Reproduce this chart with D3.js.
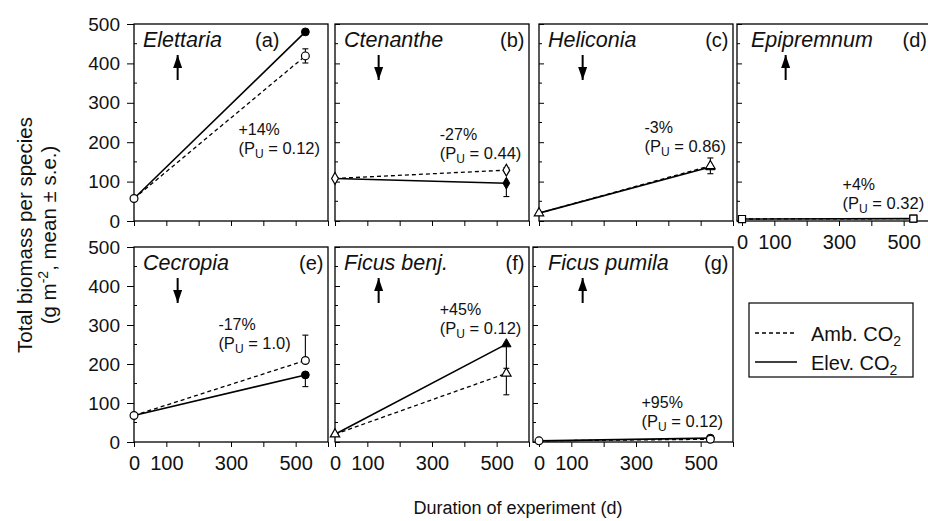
<!DOCTYPE html>
<html>
<head>
<meta charset="utf-8">
<script src="https://cdnjs.cloudflare.com/ajax/libs/d3/7.8.5/d3.min.js"></script>
<style>
body { margin: 0; background: #fff; }
svg { font-family: "Liberation Sans", Arial, Helvetica, sans-serif; }
</style>
</head>
<body>
<div id="chart"></div>
<script>
const w = 928,
    h = 521;

// ---- data ----
const species = ["Elettaria", "Ctenanthe", "Heliconia", "Epipremnum", "Cecropia", "Ficus benj.", "Ficus pumila"];
const panelLetters = ["(a)", "(b)", "(c)", "(d)", "(e)", "(f)", "(g)"];
const days = [0, 530];
const ambient = [[57, 419], [108, 129], [20, 140], [5, 6], [68, 209], [20, 176], [3, 7]];
const elevated = [[57, 480], [108, 96], [20, 137], [5, 6], [68, 172], [20, 251], [3, 10]];
const ambientSE = [18, 6, 20, 0, 65, 55, 4];
const elevatedSE = [0, 34, 0, 0, 30, 62, 0];
const ambientErrDir = [0, 1, 0, 0, 1, -1, 0];   // 1 up, -1 down, 0 both
const elevatedErrDir = [0, -1, 0, 0, -1, -1, 0];
const changeText = ["+14%", "-27%", "-3%", "+4%", "-17%", "+45%", "+95%"];
const pValues = ["0.12", "0.44", "0.86", "0.32", "1.0", "0.12", "0.12"];
const arrowUp = [true, false, false, true, false, true, true];
const markerShapes = ["circle", "diamond", "triangle", "square", "circle", "triangle", "circle"];
const xTicks = [0, 100, 200, 300, 400, 500, 600];
const xTickLabels = [0, 100, 300, 500];
const yTicks = [0, 100, 200, 300, 400, 500];
const yMinorTicks = [50, 150, 250, 350, 450];

// ---- layout ----
const panelLeft = [134, 335, 539, 742, 134, 335, 539];
const panelBottom = [221, 221, 221, 221, 442, 442, 442];
const panelTop = [24, 24, 24, 24, 247, 247, 247];
const framePad = [0, 0, 0, 5, 0, 0, 6];
const panelWidth = 194;
const showYLabels = [true, false, false, false, true, false, false];
const showXLabels = [false, false, false, true, true, true, true];
const noteX = [323, 324, 326, 311, 261, 324, 317];
const noteY = [218, 206, 223, 79, 287, 326, 88];
const letterDay = [450, 586, 586, 572, 586, 586, 586];
const arrowDay = 135;

const symbolTypes = {
    circle: d3.symbolCircle,
    diamond: d3.symbolDiamond,
    triangle: d3.symbolTriangle,
    square: d3.symbolSquare
};
const symbolSizes = { circle: 48, diamond: 40, triangle: 38, square: 50 };

const svg = d3.select("#chart")
    .append("svg")
    .attr("width", w)
    .attr("height", h);

species.forEach(function (name, i) {
    const x = d3.scaleLinear()
        .domain([0, 600])
        .range([panelLeft[i], panelLeft[i] + panelWidth]);
    const y = d3.scaleLinear()
        .domain([0, 500])
        .range([panelBottom[i], panelTop[i]]);

    const g = svg.append("g");
    const frameX = x(0) - framePad[i];

    // frame
    g.append("rect")
        .attr("x", frameX)
        .attr("y", y(500))
        .attr("width", panelWidth + framePad[i])
        .attr("height", y(0) - y(500))
        .attr("fill", "none")
        .attr("stroke", "#000")
        .attr("stroke-width", 1.3);

    // x axis
    const xAxis = d3.axisBottom(x)
        .tickValues(xTicks)
        .tickSize(5)
        .tickPadding(9)
        .tickFormat(function (d) {
            return (showXLabels[i] && xTickLabels.indexOf(d) >= 0) ? d : "";
        });
    const xg = g.append("g")
        .attr("transform", "translate(0," + y(0) + ")")
        .call(xAxis);
    xg.select(".domain").remove();
    xg.selectAll("text").attr("font-size", 20).attr("fill", "#111");

    // y axis
    const yAxis = d3.axisLeft(y)
        .tickValues(yTicks)
        .tickSize(showYLabels[i] ? 7 : -5)
        .tickPadding(7)
        .tickFormat(function (d) { return showYLabels[i] ? d : ""; });
    const yg = g.append("g")
        .attr("transform", "translate(" + frameX + ",0)")
        .call(yAxis);
    yg.select(".domain").remove();
    yg.selectAll("text").attr("font-size", 19).attr("fill", "#111");

    g.selectAll(".minor")
        .data(yMinorTicks)
        .enter()
        .append("line")
        .attr("x1", frameX)
        .attr("x2", frameX + 3)
        .attr("y1", function (d) { return y(d); })
        .attr("y2", function (d) { return y(d); })
        .attr("stroke", "#000");

    // lines
    const line = d3.line()
        .x(function (d) { return x(d[0]); })
        .y(function (d) { return y(d[1]); });

    g.append("path")
        .datum(days.map(function (d, k) { return [d, elevated[i][k]]; }))
        .attr("d", line)
        .attr("fill", "none")
        .attr("stroke", "#000")
        .attr("stroke-width", 1.6);

    g.append("path")
        .datum(days.map(function (d, k) { return [d, ambient[i][k]]; }))
        .attr("d", line)
        .attr("fill", "none")
        .attr("stroke", "#000")
        .attr("stroke-width", 1.3)
        .attr("stroke-dasharray", "4,3");

    // error bars at the end point
    function errorBar(value, se, dir) {
        if (!se) return;
        const lo = dir === 1 ? value : value - se;
        const hi = dir === -1 ? value : value + se;
        const cx = x(days[1]);
        g.append("line")
            .attr("x1", cx).attr("x2", cx)
            .attr("y1", y(lo)).attr("y2", y(hi))
            .attr("stroke", "#000").attr("stroke-width", 1.1);
        [lo, hi].forEach(function (v) {
            if (v === value) return;
            g.append("line")
                .attr("x1", cx - 3).attr("x2", cx + 3)
                .attr("y1", y(v)).attr("y2", y(v))
                .attr("stroke", "#000").attr("stroke-width", 1.1);
        });
    }
    errorBar(ambient[i][1], ambientSE[i], ambientErrDir[i]);
    errorBar(elevated[i][1], elevatedSE[i], elevatedErrDir[i]);

    // markers
    const sym = d3.symbol()
        .type(symbolTypes[markerShapes[i]])
        .size(symbolSizes[markerShapes[i]]);

    g.append("path")
        .attr("d", sym)
        .attr("transform", "translate(" + x(days[1]) + "," + y(elevated[i][1]) + ")")
        .attr("fill", "#000")
        .attr("stroke", "#000");

    days.forEach(function (d, k) {
        g.append("path")
            .attr("d", sym)
            .attr("transform", "translate(" + x(d) + "," + y(ambient[i][k]) + ")")
            .attr("fill", "#fff")
            .attr("stroke", "#000")
            .attr("stroke-width", 1.2);
    });

    // species name and panel letter
    g.append("text")
        .attr("x", x(0) + 9)
        .attr("y", y(500) + 23)
        .attr("font-size", 21.5)
        .attr("font-style", "italic")
        .attr("fill", "#111")
        .text(name);

    g.append("text")
        .attr("x", x(letterDay[i]))
        .attr("y", y(500) + 23)
        .attr("text-anchor", "end")
        .attr("font-size", 20)
        .attr("fill", "#111")
        .text(panelLetters[i]);

    // arrow
    const ax = x(arrowDay);
    const aTop = y(500) + 31,
        aBot = y(500) + 56;
    const tipY = arrowUp[i] ? aTop : aBot;
    const baseY = arrowUp[i] ? aTop + 13 : aBot - 13;
    g.append("line")
        .attr("x1", ax).attr("x2", ax)
        .attr("y1", aTop).attr("y2", aBot)
        .attr("stroke", "#000").attr("stroke-width", 2);
    g.append("path")
        .attr("d", "M" + ax + "," + tipY + "L" + (ax - 4.5) + "," + baseY + "L" + (ax + 4.5) + "," + baseY + "Z")
        .attr("fill", "#000");

    // change and p value
    const nx = x(noteX[i]),
        ny = y(noteY[i]);
    g.append("text")
        .attr("x", nx)
        .attr("y", ny)
        .attr("font-size", 16)
        .attr("fill", "#111")
        .text(changeText[i]);

    const pt = g.append("text")
        .attr("x", nx)
        .attr("y", ny + 19)
        .attr("font-size", 16.5)
        .attr("fill", "#111");
    pt.append("tspan").text("(P");
    pt.append("tspan").attr("dy", 4).attr("font-size", 12).text("U");
    pt.append("tspan").attr("dy", -4).text(" = " + pValues[i] + ")");
});

// y axis title
const yTitle = svg.append("text")
    .attr("transform", "translate(32,235) rotate(-90)")
    .attr("text-anchor", "middle")
    .attr("font-size", 20.5)
    .attr("fill", "#111");
yTitle.append("tspan")
    .attr("x", 0)
    .attr("dy", 0)
    .text("Total biomass per species");
yTitle.append("tspan")
    .attr("x", 0)
    .attr("dy", 24)
    .text("(g m");
yTitle.append("tspan").attr("dy", -8).attr("font-size", 14).text("-2");
yTitle.append("tspan").attr("dy", 8).text(", mean \u00b1 s.e.)");

// x axis title
svg.append("text")
    .attr("x", 518)
    .attr("y", 514)
    .attr("text-anchor", "middle")
    .attr("font-size", 18)
    .attr("fill", "#111")
    .text("Duration of experiment (d)");

// legend
const legendItems = ["Amb. CO", "Elev. CO"];
const legendDash = ["4,3", null];
const legend = svg.append("g");
legend.append("rect")
    .attr("x", 749).attr("y", 303)
    .attr("width", 164).attr("height", 74)
    .attr("fill", "none").attr("stroke", "#000").attr("stroke-width", 1.2);

legendItems.forEach(function (t, k) {
    const ly = 333 + k * 29;
    legend.append("line")
        .attr("x1", 755).attr("x2", 797)
        .attr("y1", ly).attr("y2", ly)
        .attr("stroke", "#000")
        .attr("stroke-width", 1.3)
        .attr("stroke-dasharray", legendDash[k]);
    const lt = legend.append("text")
        .attr("x", 811)
        .attr("y", ly + 8)
        .attr("font-size", 20)
        .attr("fill", "#111");
    lt.append("tspan").text(t);
    lt.append("tspan").attr("dy", 5).attr("font-size", 14).text("2");
});
</script>
</body>
</html>
